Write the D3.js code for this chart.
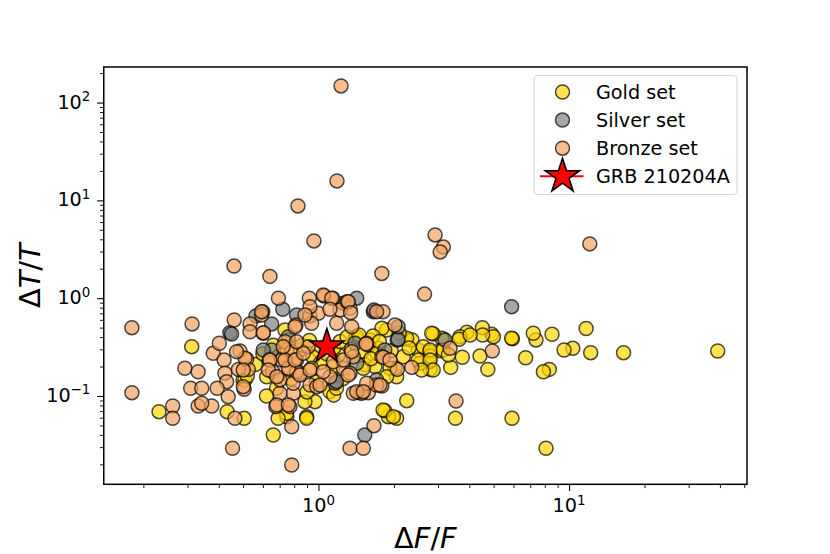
<!DOCTYPE html>
<html><head><meta charset="utf-8">
<script src="https://cdn.jsdelivr.net/npm/d3@7"></script>
<style>body{margin:0;background:#fff}svg{display:block}text{font-family:"DejaVu Sans",sans-serif}</style>
</head><body>
<script>
// ---- data (ΔF/F, ΔT/T) ----
const gold = [
[11.7,0.49],[39.2,0.288],[16.5,0.277],[12.2,0.277],[10.35,0.307],[9.55,0.295],[8.55,0.428],[7.38,0.374],[7.2,0.438],
[8.34,0.187],[7.9,0.177],[6.71,0.246],[5.94,0.385],[5.9,0.39],[4.91,0.428],[4.99,0.404],[4.51,0.499],[4.52,0.42],
[3.91,0.448],[3.67,0.404],[3.64,0.38],[4.41,0.256],[4.74,0.187],[3.75,0.249],[3.37,0.196],[3.15,0.38],[3.1,0.389],
[2.87,0.431],[3.06,0.29],[2.79,0.187],[2.77,0.224],[2.54,0.216],[2.5,0.295],[2.25,0.0895],[2.05,0.0591],[1.9,0.0614],
[1.84,0.0708],[3.52,0.0591],[5.92,0.0591],[8.09,0.0292],[2.05,0.157],[2.02,0.192],[1.87,0.473],[2.21,0.38],[2.36,0.374],
[2.62,0.319],[2.79,0.284],[2.79,0.256],[4.03,0.42],[1.79,0.492],[2.83,0.438],[1.61,0.374],[1.4,0.389],[1.49,0.284],
[1.53,0.208],[1.73,0.307],[2.25,0.389],[2.79,0.295],[3.15,0.295],[2.18,0.252],[2.5,0.233],[2.79,0.233],[3.3,0.263],
[2.87,0.184],[2.58,0.184],[1.93,0.192],[1.68,0.2],[1.87,0.157],[1.81,0.072],[1.99,0.0614],[1.11,0.111],[0.897,0.0614],
[0.968,0.0874],[0.747,0.0614],[0.883,0.0874],[1.15,0.102],[0.746,0.0665],[0.66,0.0399],[0.69,0.0591],[0.897,0.0591],
[0.231,0.0691],[0.312,0.319],[0.432,0.0691],[0.505,0.0591],[0.5,0.146],[0.621,0.157],[0.509,0.146],
[1.146,0.2],[0.735,0.473],[0.758,0.374],[0.844,0.295],[0.998,0.295],[1.2,0.263],[1.42,0.404],[1.58,0.332],[1.71,0.273],[1.51,0.192],
[0.52,0.16],[0.56,0.21],[0.6,0.27],[0.66,0.33],[0.7,0.26],[0.75,0.3],[0.8,0.22],[0.86,0.33],[0.92,0.37],[0.95,0.25],
[1.02,0.22],[1.08,0.27],[1.15,0.31],[1.22,0.36],[1.3,0.4],[1.35,0.3],[1.25,0.15],[1.18,0.12],[0.98,0.14],[0.9,0.11],
[0.78,0.15],[0.68,0.12],[0.62,0.1],[1.45,0.42],[1.65,0.41],[1.75,0.36],[1.95,0.29],[2.1,0.44],[2.3,0.31],[1.62,0.24]
];
const silver = [
[5.9,0.819],[2.06,0.374],[3.2,0.374],[1.84,0.295],[1.53,0.0399],[0.443,0.444],[0.599,0.728],[0.563,0.658],[0.65,0.545],
[0.65,0.295],[0.72,0.77],[0.818,0.673],[0.758,0.404],[1.164,0.135],[1.421,0.216],[1.421,1.0],[1.655,0.728],[1.256,0.887],
[2.08,0.38],[1.399,0.346],[0.602,0.295],[1.706,0.146],[1.665,0.757],[2.08,0.51],[0.45,0.43],[1.18,0.14]
];
const bronze = [
[1.23,148],[1.185,15.8],[0.828,8.77],[0.959,3.85],[2.92,4.43],[3.15,3.33],[3.06,2.97],[12.1,3.59],[0.46,2.13],[0.64,1.67],
[1.79,1.79],[2.65,1.1],[0.18,0.499],[0.18,0.108],[0.313,0.545],[0.454,0.0292],[0.782,0.0197],[3.54,0.0889],[1.336,0.0292],
[1.51,0.0292],[1.665,0.0497],[0.782,0.0485],[4.94,0.288],[3.35,0.307],[2.355,0.196],[2.063,0.187],[2.018,0.532],[1.81,0.728],
[1.79,0.252],[1.79,0.1265],[0.262,0.079],[0.262,0.0591],[0.293,0.192],[0.331,0.177],[0.309,0.12],[0.342,0.12],[0.331,0.079],
[0.375,0.079],[0.342,0.0842],[0.38,0.273],[0.402,0.346],[0.42,0.233],[0.423,0.171],[0.43,0.14],[0.394,0.12],[0.436,0.0984],
[0.464,0.0591],[0.676,0.0778],[0.769,0.0778],[0.793,0.1066],[0.702,0.1066],[0.461,0.598],[0.486,0.288],[0.517,0.237],
[0.525,0.187],[0.479,0.187],[0.505,0.117],[0.533,0.545],[0.593,0.673],[0.602,0.438],[0.636,0.233],[0.656,0.177],[0.692,1.0],
[0.919,1.0],[1.052,1.05],[1.14,1.0],[0.813,0.532],[0.735,0.359],[0.925,0.658],[0.998,0.701],[0.939,0.554],[0.782,0.284],
[0.713,0.233],[0.818,0.233],[0.844,0.171],[0.765,0.187],[0.939,0.192],[0.925,0.1296],[0.984,0.1245],[1.111,0.157],[1.256,0.192],
[1.336,0.171],[1.465,0.108],[1.581,0.108],[1.706,0.1296],[1.377,0.252],[1.557,0.346],[1.336,0.788],[1.219,0.758],[1.303,0.921],
[1.357,0.511],[1.045,1.08],[1.129,1.0],[1.315,0.921],[0.593,0.728],[0.925,0.819],[1.111,0.77],[1.344,0.711],[0.883,0.673],
[1.182,0.554],[0.806,0.511],[1.706,0.728],[1.548,0.34],[1.814,0.249],[1.76,0.1296],[1.488,0.1066],[1.377,0.1066],[0.681,0.0809],
[0.758,0.0809],[0.702,0.146],[0.793,0.135],[1.014,0.1296],[0.818,0.177],[0.758,0.192],[0.735,0.233],[0.806,0.233],[0.844,0.164],
[0.925,0.184],[1.045,0.177],[1.146,0.224],[1.256,0.233],[1.315,0.164],[0.64,0.233],[0.631,0.184],[0.681,0.157],[0.509,0.243],
[0.501,0.184],[0.501,0.1245],[0.471,0.284],[0.533,0.454],[0.602,0.444],[0.723,0.319],[0.91,0.319],[0.87,0.273],[1.357,0.284],
[1.928,0.233],[1.557,0.135],[1.421,0.1107],[1.51,0.1107],[0.818,0.359]
];
const grb = [[1.08,0.32]];
const seriesNames = ["Gold set","Silver set","Bronze set","GRB 210204A"];
const seriesColors = ["rgba(255,215,0,0.7)","rgba(128,128,128,0.7)","rgba(244,164,96,0.7)","#ff0000"];
const xDomain = [0.139, 51.3], yDomain = [0.0125, 231];
const xMajor = [1, 10], yMajor = [0.1, 1, 10, 100];

// ---- layout ----
const W = 830, H = 554, L = 103.75, R = 747, T = 67, B = 484.3;
const svg = d3.select("body").append("svg").attr("width", W).attr("height", H);
const x = d3.scaleLog().domain(xDomain).range([L, R]);
const y = d3.scaleLog().domain(yDomain).range([B, T]);

const FS = 19.2, SUP = 13.4;
function expOf(v){ return Math.round(Math.log10(v)); }
function minors(dom){
  const out=[]; for(let e=-3;e<=3;e++) for(let m=2;m<=9;m++){const v=m*Math.pow(10,e); if(v>=dom[0]&&v<=dom[1]) out.push(v);} return out;
}

// points
const edge = "rgba(0,0,0,0.7)";
const r = 7.0;
[[gold,0],[silver,1],[bronze,2]].forEach(([data,i])=>{
  svg.append("g").selectAll("circle").data(data).join("circle")
    .attr("cx", d=>x(d[0])).attr("cy", d=>y(d[1])).attr("r", r)
    .attr("fill", seriesColors[i]).attr("stroke", edge).attr("stroke-width", 1.5);
});
function starPath(R0){
  const ri = R0*0.381966; let p="";
  for(let k=0;k<10;k++){const rr=k%2?ri:R0; const a=-Math.PI/2 + k*Math.PI/5; p+=(k?"L":"M")+(rr*Math.cos(a)).toFixed(2)+","+(rr*Math.sin(a)).toFixed(2);}
  return p+"Z";
}
svg.append("g").selectAll("path").data(grb).join("path")
  .attr("d", starPath(18)).attr("transform", d=>`translate(${x(d[0])},${y(d[1])})`)
  .attr("fill", seriesColors[3]).attr("stroke", "#000").attr("stroke-width", 1.6).attr("stroke-linejoin","miter");

// frame
svg.append("rect").attr("x",L).attr("y",T).attr("width",R-L).attr("height",B-T)
  .attr("fill","none").attr("stroke","#000").attr("stroke-width",1.5);

// x axis
const xa = svg.append("g").attr("transform",`translate(0,${B})`)
  .call(d3.axisBottom(x).tickValues(xMajor).tickSize(6.7).tickPadding(6.7).tickFormat(""));
xa.select(".domain").remove();
xa.selectAll(".tick line").attr("stroke-width",1.1);
const xm = svg.append("g").attr("transform",`translate(0,${B})`)
  .call(d3.axisBottom(x).tickValues(minors(xDomain)).tickSize(3.8).tickFormat(""));
xm.select(".domain").remove(); xm.selectAll(".tick line").attr("stroke-width",0.9);
xMajor.forEach(v=>{
  const t = svg.append("text").attr("x",x(v)).attr("y",B+28).attr("text-anchor","middle").attr("font-size",FS);
  t.append("tspan").text("10");
  t.append("tspan").attr("font-size",SUP).attr("dy",-7.5).text(String(expOf(v)).replace("-","\u2212"));
});

// y axis
const ya = svg.append("g").attr("transform",`translate(${L},0)`)
  .call(d3.axisLeft(y).tickValues(yMajor).tickSize(6.7).tickFormat(""));
ya.select(".domain").remove(); ya.selectAll(".tick line").attr("stroke-width",1.1);
const ym = svg.append("g").attr("transform",`translate(${L},0)`)
  .call(d3.axisLeft(y).tickValues(minors(yDomain)).tickSize(3.8).tickFormat(""));
ym.select(".domain").remove(); ym.selectAll(".tick line").attr("stroke-width",0.9);
yMajor.forEach(v=>{
  const t = svg.append("text").attr("x",L-13.4).attr("y",y(v)+6).attr("text-anchor","end").attr("font-size",FS);
  t.append("tspan").text("10");
  t.append("tspan").attr("font-size",SUP).attr("dy",-7.5).text(String(expOf(v)).replace("-","\u2212"));
});

// axis labels
const xl = svg.append("text").attr("x",(L+R)/2).attr("y",548).attr("text-anchor","middle").attr("font-size",28.8);
xl.append("tspan").text("\u0394"); xl.append("tspan").attr("font-style","italic").text("F");
xl.append("tspan").text("/"); xl.append("tspan").attr("font-style","italic").text("F");
const yl = svg.append("text").attr("transform",`translate(40,${(T+B)/2}) rotate(-90)`).attr("text-anchor","middle").attr("font-size",28.8);
yl.append("tspan").text("\u0394"); yl.append("tspan").attr("font-style","italic").text("T");
yl.append("tspan").text("/"); yl.append("tspan").attr("font-style","italic").text("T");

// legend
const lg = svg.append("g");
lg.append("rect").attr("x",534).attr("y",75.5).attr("width",203).attr("height",119).attr("rx",4)
  .attr("fill","rgba(255,255,255,0.8)").attr("stroke","#d5d5d5").attr("stroke-width",1.1);
const rowY = i => 92 + i*28.1;
seriesNames.forEach((name,i)=>{
  if(i<3){
    lg.append("circle").attr("cx",562.5).attr("cy",rowY(i)).attr("r",r).attr("fill",seriesColors[i]).attr("stroke",edge).attr("stroke-width",1.5);
  } else {
    lg.append("line").attr("x1",540).attr("x2",583.5).attr("y1",rowY(i)).attr("y2",rowY(i)).attr("stroke","#ff0000").attr("stroke-width",2);
    lg.append("path").attr("d",starPath(18)).attr("transform",`translate(562.5,${rowY(i)})`)
      .attr("fill","#ff0000").attr("stroke","#000").attr("stroke-width",1.6);
  }
  lg.append("text").attr("x",596).attr("y",rowY(i)+7).attr("font-size",FS).text(name);
});
</script>
</body></html>
